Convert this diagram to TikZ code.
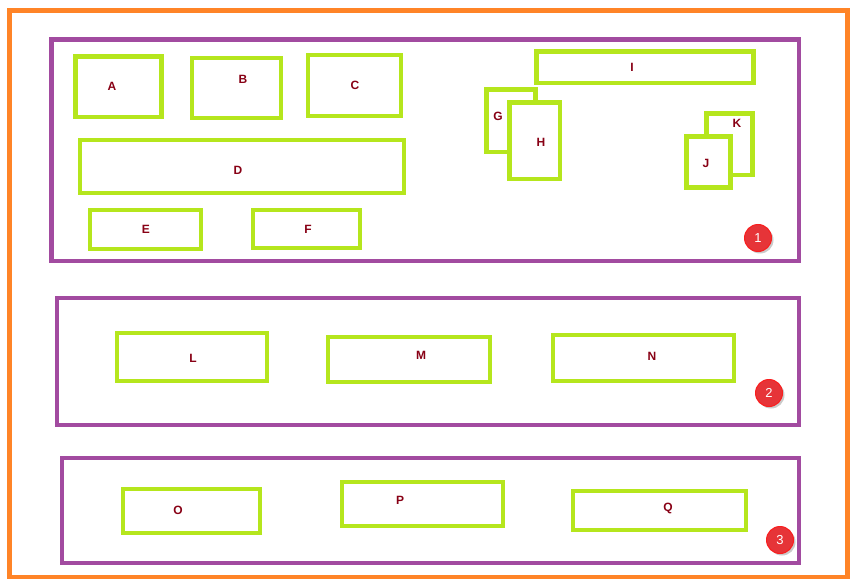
\documentclass[tikz,border=0pt]{standalone}
\usepackage{fontspec}
\setmainfont{Liberation Sans}
\usetikzlibrary{shadows}
\definecolor{orng}{RGB}{255,132,39}
\definecolor{purp}{RGB}{162,75,160}
\definecolor{grn}{RGB}{181,230,29}
\definecolor{lbl}{RGB}{136,0,21}
\definecolor{redc}{RGB}{230,52,56}
\definecolor{redb}{RGB}{250,30,30}
\begin{document}
\begin{tikzpicture}[x=1pt,y=-1pt,
  outerbox/.style={draw=orng,line width=4.7pt},
  panel/.style={draw=purp,line width=4.5pt},
  gbox/.style={draw=grn,line width=4.6pt,fill=white},
  lab/.style={text=lbl,font=\fontsize{12}{14}\selectfont\bfseries,inner sep=0pt},
  badge/.style={circle,fill=redc,draw=redb,line width=1pt,minimum size=27pt,inner sep=0pt,
     text=white,font=\fontsize{13}{15}\selectfont,
     drop shadow={shadow xshift=2pt,shadow yshift=-2pt,opacity=0.35,fill=black!60}}]
\useasboundingbox (0,0) rectangle (862,588);
\draw[outerbox] (9.5,10.5) rectangle (847.5,577);
% panels
\draw[panel] (51.5,39.5) rectangle (799,261);
\draw[panel] (57,298) rectangle (799,425);
\draw[panel] (62,458) rectangle (799,563);
% row 1
\draw[gbox] (75.5,56.5) rectangle (161.5,117);
\node[lab] (A) at (112,86) {A};
\draw[gbox] (192,58) rectangle (281,118);
\node[lab] (B) at (243,79) {B};
\draw[gbox] (308,55) rectangle (401,116);
\node[lab] (C) at (355,85) {C};
\draw[gbox] (80,140) rectangle (404,193);
\node[lab] (D) at (238,170) {D};
\draw[gbox] (90,210) rectangle (201,249);
\node[lab] (E) at (146,229) {E};
\draw[gbox] (253,210) rectangle (360,248);
\node[lab] (F) at (308,229) {F};
\draw[gbox] (536.3,51.7) rectangle (753.3,83);
\node[lab] (I) at (632,67) {I};
\draw[gbox] (486.3,89.3) rectangle (535.3,152);
\node[lab] (G) at (498,116) {G};
\draw[gbox] (509.3,102.7) rectangle (560,179);
\node[lab] (H) at (541,142) {H};
\draw[gbox] (706.3,113.3) rectangle (752.3,175);
\node[lab] (K) at (737,123) {K};
\draw[gbox] (686.3,136.3) rectangle (730.3,187.3);
\node[lab] (J) at (706,163) {J};
% row 2
\draw[gbox] (117,333) rectangle (267,381);
\node[lab] (L) at (193,358) {L};
\draw[gbox] (328,337) rectangle (490,382);
\node[lab] (M) at (421,355) {M};
\draw[gbox] (553,335) rectangle (734,381);
\node[lab] (N) at (652,356) {N};
% row 3
\draw[gbox] (123,489) rectangle (260,533);
\node[lab] (O) at (178,510) {O};
\draw[gbox] (342,482) rectangle (503,526);
\node[lab] (P) at (400,500) {P};
\draw[gbox] (573,491) rectangle (746,530);
\node[lab] (Q) at (668,508) {Q};
% badges
\node[badge] (b1) at (758,238) {1};
\node[badge] (b2) at (769,393) {2};
\node[badge] (b3) at (780,540) {3};
\end{tikzpicture}
\end{document}
